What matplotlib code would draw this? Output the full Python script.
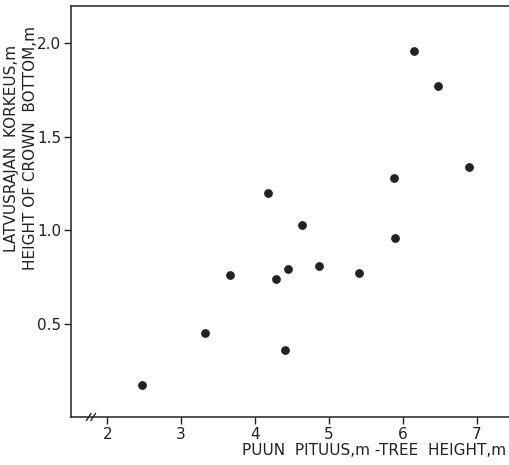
import matplotlib
matplotlib.use("Agg")
import matplotlib.pyplot as plt

# tree height (m) vs height of crown bottom (m)
tree_height = [2.47, 3.32, 3.66, 4.29, 4.44, 4.41, 4.87, 5.41, 5.89,
               6.15, 6.48, 6.89, 5.88, 4.17, 4.63]
crown_bottom = [0.17, 0.45, 0.76, 0.74, 0.79, 0.36, 0.81, 0.77, 0.96,
                1.96, 1.77, 1.34, 1.28, 1.20, 1.03]

x_ticks = [2, 3, 4, 5, 6, 7]
y_ticks = [0.5, 1.0, 1.5, 2.0]
y_ticklabels = ["0.5", "1.0", "1.5", "2.0"]

ink = "#222222"
W, H = 510, 465

fig = plt.figure(figsize=(W / 100, H / 100), dpi=100)
ax = fig.add_axes([71 / W, (H - 417) / H, (W - 71) / W, (417 - 6) / H])

ax.plot(tree_height, crown_bottom, "o", color=ink, ms=5.3, mec=ink)

ax.set_xlim(1.51, 7.45)
ax.set_ylim(0, 2.2)
ax.set_xticks(x_ticks)
ax.set_yticks(y_ticks)
ax.set_yticklabels(y_ticklabels)

ax.spines["right"].set_visible(False)
for s in ["left", "bottom", "top"]:
    ax.spines[s].set_linewidth(1.1)
    ax.spines[s].set_color(ink)

ax.tick_params(axis="both", direction="out", length=5, width=1.0,
               color=ink, labelcolor=ink, labelsize=11, pad=2)

# axis break mark on the x axis
for dx in (0, 0.06):
    ax.plot([1.72 + dx, 1.78 + dx], [-0.018, 0.018], color=ink, lw=1.0,
            clip_on=False)

fig.text(374 / W, 1 - 450 / H, "PUUN  PITUUS,m -TREE  HEIGHT,m",
         ha="center", va="center", fontsize=11, color=ink)
fig.text(12 / W, 1 - 148 / H, "LATVUSRAJAN  KORKEUS,m", rotation=90,
         ha="center", va="center", fontsize=11, color=ink)
fig.text(31 / W, 1 - 148 / H, "HEIGHT OF CROWN  BOTTOM,m", rotation=90,
         ha="center", va="center", fontsize=11, color=ink)

fig.savefig("out.png", dpi=100)
